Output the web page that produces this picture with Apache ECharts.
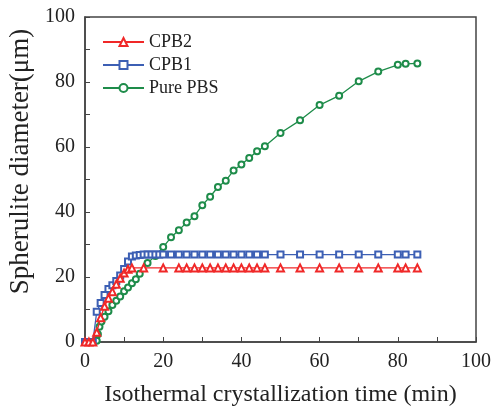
<!DOCTYPE html>
<html>
<head>
<meta charset="UTF-8">
<script type="text/javascript" src="https://cdn.jsdelivr.net/npm/echarts@6/dist/echarts.min.js"></script>
<title>Spherulite diameter</title>
<style>
	body { margin: 0; background: #fff; }
	#main { width: 494px; height: 409px; }
</style>
</head>
<body>
<div id="main"></div>
<script type="text/javascript">
	// values
	var cpb2Time = [0, 1, 2, 3, 4, 5, 6, 7, 8, 9, 10, 11, 12, 15, 20, 24, 26, 28, 30, 32, 34, 36, 38, 40, 42, 44, 46, 50, 55, 60, 65, 70, 75, 80, 82, 85];
	var cpb2Size = [0, 0, 0, 3, 7.5, 11, 13.5, 15.5, 17.8, 19.6, 21.2, 22.4, 22.8, 22.8, 22.8, 22.8, 22.8, 22.8, 22.8, 22.8, 22.8, 22.8, 22.8, 22.8, 22.8, 22.8, 22.8, 22.8, 22.8, 22.8, 22.8, 22.8, 22.8, 22.8, 22.8, 22.8];

	var cpb1Time = [0, 1, 2, 3, 4, 5, 6, 7, 8, 9, 10, 11, 12, 13, 14, 15, 16, 17, 18, 19, 20, 22, 24, 26, 28, 30, 32, 34, 36, 38, 40, 42, 44, 46, 50, 55, 60, 65, 70, 75, 80, 82, 85];
	var cpb1Size = [0, 0, 0, 9.3, 12, 14.5, 16.3, 17.5, 18.8, 20.5, 22.5, 24.8, 26.3, 26.6, 26.8, 26.9, 26.9, 26.9, 26.9, 26.9, 26.9, 26.9, 26.9, 26.9, 26.9, 26.9, 26.9, 26.9, 26.9, 26.9, 26.9, 26.9, 26.9, 26.9, 26.9, 26.9, 26.9, 26.9, 26.9, 26.9, 26.9, 26.9, 26.9];

	var pbsTime = [3, 3.3, 3.7, 4.2, 5, 6, 7, 8, 9, 10, 11, 12, 13, 14, 16, 18, 20, 22, 24, 26, 28, 30, 32, 34, 36, 38, 40, 42, 44, 46, 50, 55, 60, 65, 70, 75, 80, 82, 85];
	var pbsSize = [0.4, 2.4, 4.7, 6.3, 7.8, 9.5, 11.4, 12.7, 14, 15.6, 16.8, 18.1, 19.3, 21, 24.3, 26.5, 29.2, 32.2, 34.4, 36.8, 38.7, 42.1, 44.7, 47.7, 49.6, 52.8, 54.6, 56.6, 58.7, 60.2, 64.3, 68.2, 72.9, 75.8, 80.2, 83.2, 85.3, 85.6, 85.7];

	function pairs(xs, ys) {
		var out = [];
		for (var i = 0; i < xs.length; i++) {
			out.push([xs[i], ys[i]]);
		}
		return out;
	}

	var font = "'Liberation Serif', 'DejaVu Serif', serif";
	var myChart = echarts.init(document.getElementById('main'));

	var option = {
		animation: false,
		textStyle: { fontFamily: font },
		grid: {
			left: 85, right: 18, top: 17, bottom: 67,
			outerBoundsMode: 'none',
			show: true, borderColor: '#444', borderWidth: 1.5
		},
		legend: {
			orient: 'vertical',
			left: 97, top: 28,
			itemWidth: 41, itemHeight: 10, itemGap: 5,
			textStyle: { fontFamily: font, fontSize: 18, color: '#222' },
			data: ['CPB2', 'CPB1', 'Pure PBS']
		},
		xAxis: {
			type: 'value', min: 0, max: 100, interval: 20,
			name: 'Isothermal crystallization time (min)',
			nameLocation: 'middle', nameGap: 41,
			nameTextStyle: { fontFamily: font, fontSize: 24, color: '#222' },
			axisLine: { lineStyle: { color: '#444', width: 1.5 } },
			axisTick: { inside: true, length: 5, lineStyle: { color: '#444' } },
			minorTick: { show: true, splitNumber: 2, length: 5, lineStyle: { color: '#444' } },
			axisLabel: { fontFamily: font, fontSize: 20, color: '#222', margin: 10 },
			splitLine: { show: false }
		},
		yAxis: {
			type: 'value', min: 0, max: 100, interval: 20,
			name: 'Spherulite diameter(\u03bcm)',
			nameLocation: 'middle', nameGap: 49,
			nameTextStyle: { fontFamily: font, fontSize: 27, color: '#222', padding: [0, 0, 0, 36] },
			axisLine: { lineStyle: { color: '#444', width: 1.5 } },
			axisTick: { inside: true, length: 5, lineStyle: { color: '#444' } },
			minorTick: { show: true, splitNumber: 2, length: 5, lineStyle: { color: '#444' } },
			axisLabel: { fontFamily: font, fontSize: 20, color: '#222', margin: 10 },
			splitLine: { show: false }
		},
		series: [
			{
				name: 'CPB2', type: 'line',
				data: pairs(cpb2Time, cpb2Size),
				symbol: 'emptyTriangle', symbolSize: 7,
				color: '#f02828',
				lineStyle: { width: 1.3 },
				itemStyle: { borderWidth: 1.1 },
				z: 4
			},
			{
				name: 'CPB1', type: 'line',
				data: pairs(cpb1Time, cpb1Size),
				symbol: 'emptyRect', symbolSize: 6,
				color: '#3c5fb4',
				lineStyle: { width: 1.3 },
				itemStyle: { borderWidth: 1.1 },
				z: 3
			},
			{
				name: 'Pure PBS', type: 'line',
				data: pairs(pbsTime, pbsSize),
				symbol: 'emptyCircle', symbolSize: 6,
				color: '#1e8c4a',
				lineStyle: { width: 1.3 },
				itemStyle: { borderWidth: 1.1 },
				z: 2
			}
		]
	};

	myChart.setOption(option);
</script>
</body>
</html>
